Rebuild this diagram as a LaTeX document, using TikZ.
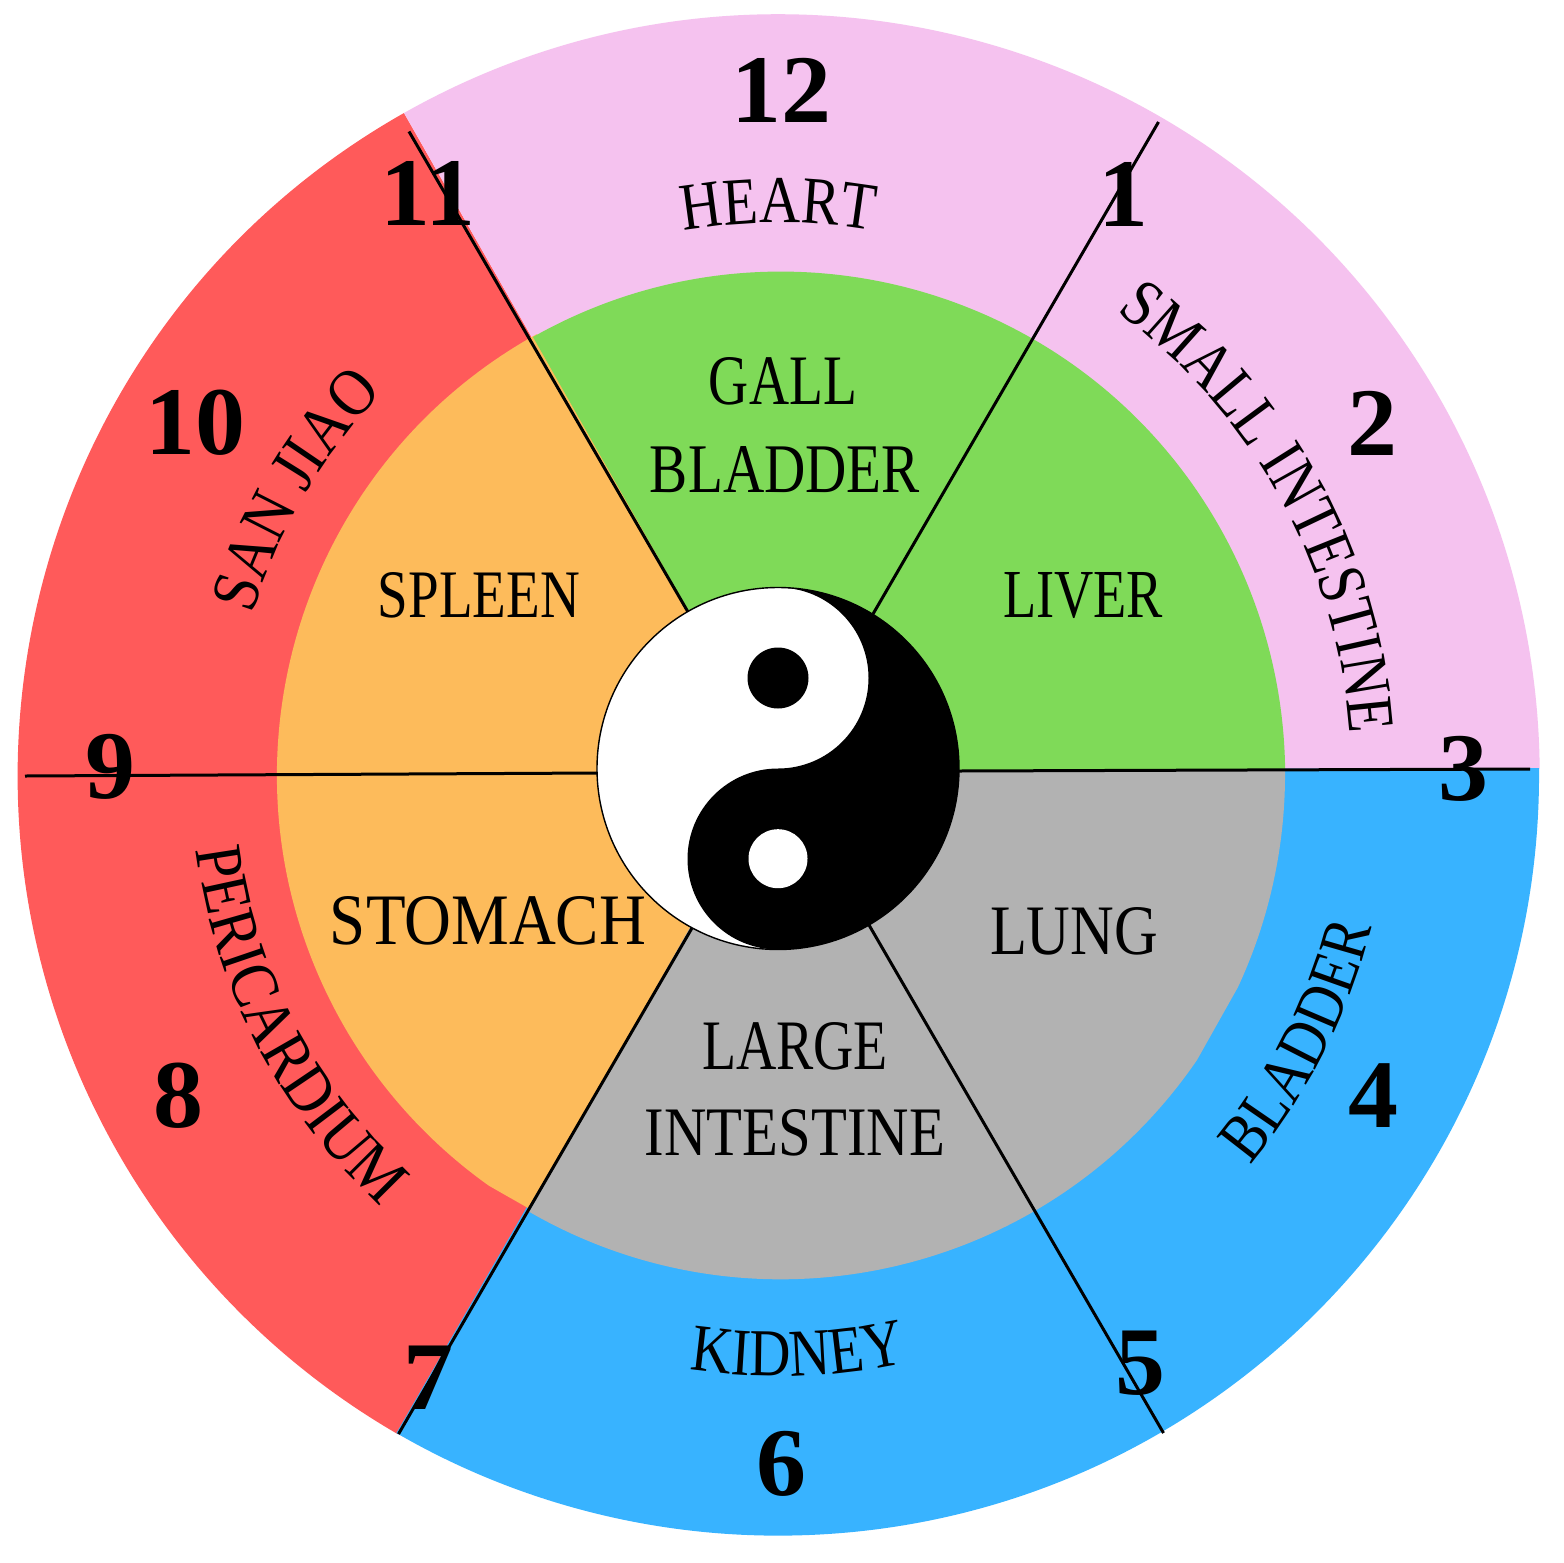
\documentclass[tikz,border=0pt]{standalone}
\usepackage{fontspec}
\usepackage{graphicx}
\usetikzlibrary{decorations.text}
\setmainfont{Liberation Serif}
\newfontfamily\numfont[FakeStretch=1.03]{Liberation Serif}
\newfontfamily\labfont{Liberation Serif}
\newfontfamily\cfa[FakeStretch=0.85]{Liberation Serif}
\newfontfamily\cfb[FakeStretch=0.89]{Liberation Serif}
\newfontfamily\cfc[FakeStretch=0.88]{Liberation Serif}
\definecolor{cpink}{HTML}{F5C2EF}
\definecolor{cred}{HTML}{FF5A5A}
\definecolor{cblue}{HTML}{38B3FF}
\definecolor{cgreen}{HTML}{7FDA58}
\definecolor{corange}{HTML}{FDBB5B}
\definecolor{cgrey}{HTML}{B2B2B2}
\tikzset{
  numlabel/.style={inner sep=0pt,font=\numfont\bfseries\fontsize{48.5}{48.5}\selectfont},
  organ/.style={inner sep=0pt},
  divider/.style={draw=black,line width=1.5pt},
}
% centre x, centre y, width, height, text (pixels of the reference)
\newcommand\organlabel[6]{\node[organ] (#1) at (#2,-#3) {\resizebox{\dimexpr #4pt/2\relax}{\dimexpr #5pt/2\relax}{\labfont #6}};}
% radius, middle angle, font, text
\newcommand\arctextcw[4]{\path[postaction={decorate},decoration={text along path,text={|#3\fontsize{33.5}{34}\selectfont|#4},text align=center}]
  (778.5,-775) ++(#2+70:#1) arc[start angle=#2+70,end angle=#2-70,radius=#1];}
\newcommand\arctextccw[4]{\path[postaction={decorate},decoration={text along path,text={|#3\fontsize{33.5}{34}\selectfont|#4},text align=center}]
  (778.5,-775) ++(#2-70:#1) arc[start angle=#2-70,end angle=#2+70,radius=#1];}
\begin{document}
\begin{tikzpicture}[x=0.5pt,y=0.5pt]
\useasboundingbox (0,0) rectangle (1563,-1563);
\fill[white] (0,0) rectangle (1563,-1563);
% outer ring
\fill[cred] (778,-770) -- (404,-113) arc[start angle=119.5,end angle=240,radius=761] -- cycle;
\fill[cpink] (778,-770) -- (404,-113) arc[start angle=119.5,end angle=0.5,radius=761] -- cycle;
\fill[cblue] (779,-770) -- (1539,-768) arc[start angle=0.5,end angle=-120.1,radius=761] -- cycle;
% inner ring
\fill[corange] (781,-775) ++(119:504) arc[start angle=119,end angle=234.6,radius=504] -- (528,-1208) -- (781,-775) -- cycle;
\fill[cgreen] (779,-770) -- (533,-337) arc[start angle=119.5,end angle=0.5,radius=504] -- cycle;
\fill[cgrey] (779,-770) -- (1285,-770) arc[start angle=0.5,end angle=-25,radius=504] -- (1197,-1060) arc[start angle=-34.4,end angle=-120,radius=504] -- cycle;
% dividers
\coordinate (l1a) at (409,-131.5); \coordinate (l1b) at (688,-612);
\coordinate (l2a) at (1158.5,-122); \coordinate (l2b) at (873,-614);
\coordinate (l3a) at (25,-776); \coordinate (l3b) at (598,-773);
\coordinate (l4a) at (959,-771); \coordinate (l4b) at (1530,-769);
\coordinate (l5a) at (398.5,-1434); \coordinate (l5b) at (692,-928);
\coordinate (l6a) at (1163.5,-1433); \coordinate (l6b) at (869,-925);
\draw[divider] (l1a) -- (l1b);
\draw[divider] (l2a) -- (l2b);
\draw[divider] (l3a) -- (l3b);
\draw[divider] (l4a) -- (l4b);
\draw[divider] (l5a) -- (l5b);
\draw[divider] (l6a) -- (l6b);
% yin yang
\filldraw[fill=white,draw=black,line width=0.7pt] (778,-768.5) circle[radius=181];
\fill[black] (778,-587.5) arc[start angle=90,end angle=-90,radius=181]
  arc[start angle=-90,end angle=-270,radius=90.5]
  arc[start angle=-90,end angle=90,radius=90.5] -- cycle;
\fill[black] (778,-678) circle[radius=30.5];
\fill[white] (778,-858.7) circle[radius=29.5];
% inner labels
\organlabel{gall}{783}{381.5}{148}{47}{GALL}
\organlabel{bladderin}{785}{470}{270}{46}{BLADDER}
\organlabel{spleen}{479}{595.5}{202}{45}{SPLEEN}
\organlabel{liver}{1083}{595.5}{160}{45}{LIVER}
\organlabel{stomach}{488}{921}{316}{48}{STOMACH}
\organlabel{lung}{1074}{931.5}{168}{47}{LUNG}
\organlabel{large}{795}{1046.5}{186}{47}{LARGE}
\organlabel{intestine}{795}{1133}{300}{46}{INTESTINE}
% curved labels
\arctextcw{552}{90}{\cfa}{HEART}
\arctextcw{573}{29}{\cfa}{SMALL INTESTINE}
\arctextcw{550}{149.5}{\cfc}{SAN JIAO}
\arctextccw{587}{207.3}{\cfb}{PERICARDIUM}
\arctextccw{601}{-88.1}{\cfa}{KIDNEY}
\arctextccw{612}{-27}{\cfa}{BLADDER}
% numbers
\node[numlabel] (n12) at (781,-90) {12};
\node[numlabel] (n1) at (1123,-194) {1};
\node[numlabel] (n2) at (1372,-423) {2};
\node[numlabel] (n3) at (1463,-769) {3};
\node[numlabel] (n4) at (1373,-1096) {4};
\node[numlabel] (n5) at (1140,-1363) {5};
\node[numlabel] (n6) at (781,-1464) {6};
\node[numlabel] (n7) at (428,-1378) {7};
\node[numlabel] (n8) at (178,-1096) {8};
\node[numlabel] (n9) at (110,-767) {9};
\node[numlabel] (n10) at (195,-423) {10};
\node[numlabel] (n11) at (428,-193) {11};
\end{tikzpicture}
\end{document}
